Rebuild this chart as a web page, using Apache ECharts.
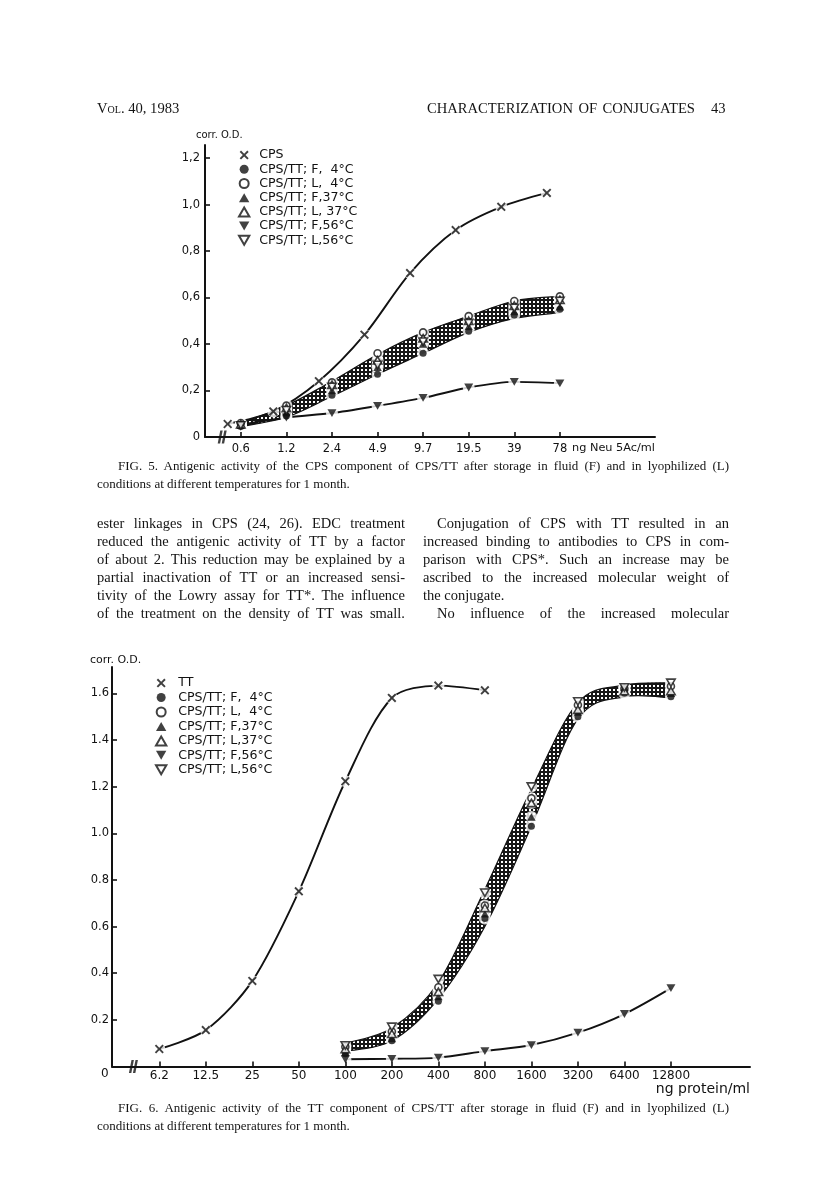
<!DOCTYPE html>
<html><head><meta charset="utf-8">
<script src="https://cdn.jsdelivr.net/npm/echarts@6/dist/echarts.min.js"></script>
<style>
html,body{margin:0;padding:0;background:#fff;}
#page{position:relative;width:816px;height:1199px;overflow:hidden;background:#fff;}
#chart{position:absolute;left:0;top:0;width:816px;height:1199px;}
#txt{position:absolute;left:0;top:0;width:816px;height:1199px;pointer-events:none;}
.t{position:absolute;font-family:"Liberation Serif","Times New Roman",serif;color:#141414;white-space:nowrap;}
</style></head>
<body><div id="page"><div id="chart"></div><div id="txt"></div></div>
<script>
// ---------- DATA: Fig. 5 ----------
const F5_TICK_LABELS = ['0.6','1.2','2.4','4.9','9.7','19.5','39','78'];
const F5_TICK_CONC = [0.61,1.22,2.44,4.88,9.75,19.5,39,78];
const F5_Y_TICKS = [0,0.2,0.4,0.6,0.8,1.0,1.2];
const F5_Y_LABELS = ['0','0,2','0,4','0,6','0,8','1,0','1,2'];
const CPS_CONC = [0.5,1,2,4,8,16,32,64];
const CPS_OD = [0.056,0.11,0.24,0.44,0.705,0.89,0.99,1.05];
const F5_F4 = [0.045,0.09,0.18,0.27,0.36,0.455,0.525,0.55];
const F5_L4 = [0.06,0.135,0.235,0.36,0.45,0.52,0.585,0.605];
const F5_F37 = [0.05,0.105,0.2,0.3,0.4,0.475,0.54,0.56];
const F5_L37 = [0.055,0.125,0.225,0.33,0.425,0.5,0.565,0.59];
const F5_F56 = [0.052,0.084,0.103,0.134,0.168,0.213,0.237,0.231];
const F5_L56 = [0.05,0.115,0.215,0.31,0.41,0.49,0.555,0.585];
const F5_BAND_HI = [0.06,0.135,0.24,0.355,0.45,0.52,0.585,0.605];
const F5_BAND_LO = [0.045,0.085,0.175,0.27,0.36,0.45,0.51,0.535];
const F5_NAMES = ['CPS','CPS/TT; F,  4°C','CPS/TT; L,  4°C','CPS/TT; F,37°C','CPS/TT; L, 37°C','CPS/TT; F,56°C','CPS/TT; L,56°C'];

// ---------- DATA: Fig. 6 ----------
const F6_TICK_LABELS = ['6.2','12.5','25','50','100','200','400','800','1600','3200','6400','12800'];
const F6_TICK_CONC = [6.25,12.5,25,50,100,200,400,800,1600,3200,6400,12800];
const F6_Y_TICKS = [0.2,0.4,0.6,0.8,1.0,1.2,1.4,1.6];
const F6_Y_LABELS = ['0.2','0.4','0.6','0.8','1.0','1.2','1.4','1.6'];
const TT_CONC = [6.25,12.5,25,50,100,200,400,800];
const TT_OD = [0.075,0.156,0.367,0.751,1.223,1.58,1.633,1.613];
const CONJ_CONC = [100,200,400,800,1600,3200,6400,12800];
const F6_F4 = [0.055,0.11,0.28,0.635,1.03,1.5,1.6,1.585];
const F6_L4 = [0.085,0.15,0.34,0.69,1.15,1.55,1.62,1.63];
const F6_F37 = [0.06,0.12,0.3,0.655,1.07,1.52,1.625,1.6];
const F6_L37 = [0.075,0.14,0.32,0.68,1.13,1.53,1.61,1.61];
const F6_F56 = [0.031,0.033,0.038,0.066,0.092,0.145,0.225,0.336];
const F6_L56 = [0.09,0.17,0.375,0.745,1.2,1.565,1.625,1.645];
const F6_BAND_HI = [0.1,0.165,0.36,0.76,1.19,1.56,1.635,1.645];
const F6_BAND_LO = [0.065,0.11,0.29,0.6,1.03,1.49,1.585,1.58];
const F6_NAMES = ['TT','CPS/TT; F,  4°C','CPS/TT; L,  4°C','CPS/TT; F,37°C','CPS/TT; L,37°C','CPS/TT; F,56°C','CPS/TT; L,56°C'];

// axis-break positions (in concentration units, drawn on the x axis)
const F5_BREAK_CONC = 0.46;
const F6_BREAK_CONC = 4.25;

// ---------- page text ----------
const TEXT_LINES = [
  {h:'V<span style="font-variant:small-caps">ol</span>. 40, 1983', x:97, y:108, fs:14.6},
  {t:'CHARACTERIZATION OF CONJUGATES', x:427, y:108, fs:14.6, w:268},
  {t:'43', x:711, y:108, fs:14.6},
  {t:'FIG. 5. Antigenic activity of the CPS component of CPS/TT after storage in fluid (F) and in lyophilized (L)', x:118, y:466, fs:13, w:611},
  {t:'conditions at different temperatures for 1 month.', x:97, y:484, fs:13},
  {t:'ester linkages in CPS (24, 26). EDC treatment', x:97, y:523, fs:14.5, w:308},
  {t:'reduced the antigenic activity of TT by a factor', x:97, y:541, fs:14.5, w:308},
  {t:'of about 2. This reduction may be explained by a', x:97, y:559, fs:14.5, w:308},
  {t:'partial inactivation of TT or an increased sensi-', x:97, y:577, fs:14.5, w:308},
  {t:'tivity of the Lowry assay for TT*. The influence', x:97, y:595, fs:14.5, w:308},
  {t:'of the treatment on the density of TT was small.', x:97, y:613, fs:14.5, w:308},
  {t:'Conjugation of CPS with TT resulted in an', x:437, y:523, fs:14.5, w:292},
  {t:'increased binding to antibodies to CPS in com-', x:423, y:541, fs:14.5, w:306},
  {t:'parison with CPS*. Such an increase may be', x:423, y:559, fs:14.5, w:306},
  {t:'ascribed to the increased molecular weight of', x:423, y:577, fs:14.5, w:306},
  {t:'the conjugate.', x:423, y:595, fs:14.5},
  {t:'No influence of the increased molecular', x:437, y:613, fs:14.5, w:292},
  {t:'FIG. 6. Antigenic activity of the TT component of CPS/TT after storage in fluid (F) and in lyophilized (L)', x:118, y:1108, fs:13, w:611},
  {t:'conditions at different temperatures for 1 month.', x:97, y:1126, fs:13}
];

const txt = document.getElementById('txt');
TEXT_LINES.forEach(L => {
  const d = document.createElement('div');
  d.className = 't';
  const lh = Math.round(L.fs * 1.2);
  d.style.left = L.x + 'px';
  d.style.top = (L.y - lh / 2) + 'px';
  d.style.fontSize = L.fs + 'px';
  d.style.lineHeight = lh + 'px';
  if (L.h) d.innerHTML = L.h; else d.textContent = L.t;
  txt.appendChild(d);
  if (L.w) {
    const nat = d.getBoundingClientRect().width;
    const spaces = (L.t.match(/ /g) || []).length;
    if (spaces > 0) d.style.wordSpacing = ((L.w - nat) / spaces) + 'px';
    else d.style.letterSpacing = ((L.w - nat) / Math.max(1, L.t.length - 1)) + 'px';
  }
});

// ---------- chart ----------
const B5 = 78 / 128, B6 = 6.25;
const lx = (c, b) => Math.log2(c / b);
const pts = (conc, vals, b) => conc.map((c, i) => [lx(c, b), vals[i]]);
const INK = '#121212';
const SYM_X = 'path://M0,1.5L1.5,0L5,3.5L8.5,0L10,1.5L6.5,5L10,8.5L8.5,10L5,6.5L1.5,10L0,8.5L3.5,5Z';
const SYM_DOWN = 'path://M0,0L10,0L5,8.7Z';
const SYM_UP = 'path://M5,0L10,8.7L0,8.7Z';
const SYM_BREAK = 'path://M3.2,0L6.2,0L3,14L0,14Z M8.2,0L11.2,0L8,14L5,14Z';

const pc = document.createElement('canvas'); pc.width = 4; pc.height = 4;
const pg = pc.getContext('2d');
pg.fillStyle = '#161616'; pg.fillRect(0, 0, 4, 4);
pg.fillStyle = '#ffffff'; pg.fillRect(1, 1, 2, 2);
const PATTERN = {image: pc, repeat: 'repeat'};

// Catmull-Rom spline through pixel points -> SVG path segments (after the first point)
function spline(P) {
  let s = '';
  for (let i = 0; i < P.length - 1; i++) {
    const p0 = P[Math.max(0, i - 1)], p1 = P[i], p2 = P[i + 1], p3 = P[Math.min(P.length - 1, i + 2)];
    const c1 = [p1[0] + (p2[0] - p0[0]) / 6, p1[1] + (p2[1] - p0[1]) / 6];
    const c2 = [p2[0] - (p3[0] - p1[0]) / 6, p2[1] - (p3[1] - p1[1]) / 6];
    s += 'C' + c1[0].toFixed(2) + ',' + c1[1].toFixed(2) + ' ' + c2[0].toFixed(2) + ',' + c2[1].toFixed(2) + ' ' + p2[0].toFixed(2) + ',' + p2[1].toFixed(2);
  }
  return s;
}
function band(conc, lo, hi, b, gi) {
  const up = pts(conc, hi, b), dn = pts(conc, lo, b);
  return {type: 'custom', xAxisIndex: gi, yAxisIndex: gi, data: [[up[0][0], up[0][1]]], z: 1, silent: true,
    renderItem: (params, api) => {
      const U = up.map(p => api.coord(p));
      const D = dn.map(p => api.coord(p)).reverse();
      const d = 'M' + U[0][0].toFixed(2) + ',' + U[0][1].toFixed(2) + spline(U) +
        'L' + D[0][0].toFixed(2) + ',' + D[0][1].toFixed(2) + spline(D) + 'Z';
      return {type: 'path', shape: {pathData: d}, style: {fill: PATTERN, stroke: INK, lineWidth: 1.2}};
    }};
}
function marker(name, data, symbol, size, filled, gi) {
  return {type: 'scatter', name, xAxisIndex: gi, yAxisIndex: gi, data, symbol, symbolSize: size,
    symbolKeepAspect: true, z: 4, silent: true,
    itemStyle: filled ? {color: INK} : {color: '#fff', borderColor: INK, borderWidth: 1.6}};
}
function curve(data, gi, smooth) {
  return {type: 'line', xAxisIndex: gi, yAxisIndex: gi, data, showSymbol: false, symbol: 'none',
    smooth, lineStyle: {color: INK, width: 1.9}, z: 2, silent: true};
}
function halo(list, gi, size) {
  return {type: 'scatter', xAxisIndex: gi, yAxisIndex: gi, data: [].concat(...list), symbol: 'circle',
    symbolSize: size, itemStyle: {color: '#fff'}, z: 3, silent: true};
}
function brk(x, gi) {
  return {type: 'scatter', xAxisIndex: gi, yAxisIndex: gi, data: [[x, 0]], symbol: SYM_BREAK,
    symbolSize: [9, 13], symbolKeepAspect: false, itemStyle: {color: INK}, z: 8, silent: true};
}
function xAxis(gi, min, max, ticks, labels, margin, fs) {
  return {type: 'value', gridIndex: gi, min, max, z: 5,
    axisLine: {show: true, onZero: false, lineStyle: {color: INK, width: 2}},
    axisTick: {show: true, inside: true, length: 5, customValues: ticks, lineStyle: {color: INK, width: 1.6}},
    axisLabel: {show: true, customValues: ticks, margin, fontFamily: 'DejaVu Sans', fontSize: fs, color: INK,
      formatter: v => labels[Math.round(v)]},
    splitLine: {show: false}};
}
function yAxis(gi, max, ticks, labels, tickVals, margin, fs) {
  return {type: 'value', gridIndex: gi, min: 0, max, z: 5,
    axisLine: {show: true, onZero: false, lineStyle: {color: INK, width: 2}},
    axisTick: {show: true, inside: true, length: 5, customValues: tickVals, lineStyle: {color: INK, width: 1.6}},
    axisLabel: {show: true, customValues: ticks, margin, fontFamily: 'DejaVu Sans', fontSize: fs, color: INK,
      formatter: v => { let k = 0; ticks.forEach((t, i) => { if (Math.abs(t - v) < Math.abs(ticks[k] - v)) k = i; }); return labels[k]; }},
    splitLine: {show: false}};
}

const f5x = F5_TICK_CONC;
const p5 = {
  cps: pts(CPS_CONC, CPS_OD, B5), f4: pts(f5x, F5_F4, B5), l4: pts(f5x, F5_L4, B5), f37: pts(f5x, F5_F37, B5),
  l37: pts(f5x, F5_L37, B5), f56: pts(f5x, F5_F56, B5), l56: pts(f5x, F5_L56, B5)
};
const p6 = {
  tt: pts(TT_CONC, TT_OD, B6), f4: pts(CONJ_CONC, F6_F4, B6), l4: pts(CONJ_CONC, F6_L4, B6), f37: pts(CONJ_CONC, F6_F37, B6),
  l37: pts(CONJ_CONC, F6_L37, B6), f56: pts(CONJ_CONC, F6_F56, B6), l56: pts(CONJ_CONC, F6_L56, B6)
};
const f5Ticks = F5_TICK_CONC.map(c => lx(c, B5));
const f6Ticks = F6_TICK_CONC.map(c => lx(c, B6));

const legendText = {fontFamily: 'DejaVu Sans', fontSize: 12.6, color: INK, lineHeight: 14.2};

const option = {
  animation: false,
  backgroundColor: 'transparent',
  grid: [
    {left: 205, top: 145, width: 450, height: 292, containLabel: false, outerBoundsMode: 'none'},
    {left: 112, top: 667, width: 638, height: 399.5, containLabel: false, outerBoundsMode: 'none'}
  ],
  xAxis: [
    xAxis(0, -0.783, 9.086, f5Ticks, F5_TICK_LABELS, 6, 11.5),
    xAxis(1, -1.017, 12.70, f6Ticks, F6_TICK_LABELS, 3, 12)
  ],
  yAxis: [
    yAxis(0, 1.256, F5_Y_TICKS, F5_Y_LABELS, F5_Y_TICKS.slice(1), 5, 11.5),
    yAxis(1, 1.7128, F6_Y_TICKS, F6_Y_LABELS, F6_Y_TICKS, 3, 11.5)
  ],
  legend: [
    {data: F5_NAMES, orient: 'vertical', left: 238, top: 148, itemWidth: 20, itemHeight: 9, itemGap: 0,
      selectedMode: false, textStyle: legendText, padding: 0},
    {data: F6_NAMES, orient: 'vertical', left: 155, top: 676, itemWidth: 24, itemHeight: 9, itemGap: 0.25,
      selectedMode: false, textStyle: legendText, padding: 0}
  ],
  graphic: [
    {type: 'text', left: 196, top: 130, silent: true, style: {text: 'corr. O.D.', font: '10px "DejaVu Sans"', fill: INK}},
    {type: 'text', right: 161, top: 443, silent: true, style: {text: 'ng Neu 5Ac/ml', font: '11.3px "DejaVu Sans"', fill: INK}},
    {type: 'text', left: 90, top: 655, silent: true, style: {text: 'corr. O.D.', font: '11px "DejaVu Sans"', fill: INK}},
    {type: 'text', left: 101, top: 1068, silent: true, style: {text: '0', font: '12px "DejaVu Sans"', fill: INK}},
    {type: 'text', right: 66, top: 1082, silent: true, style: {text: 'ng protein/ml', font: '14px "DejaVu Sans"', fill: INK}}
  ],
  series: [
    // Fig. 5
    band(F5_TICK_CONC, F5_BAND_LO, F5_BAND_HI, B5, 0),
    curve(p5.cps, 0, 0.3),
    curve(p5.f56, 0, 0.3),
    halo([p5.cps, p5.f4, p5.l4, p5.f37, p5.l37, p5.f56, p5.l56], 0, 12),
    marker(F5_NAMES[0], p5.cps, SYM_X, 9, true, 0),
    marker(F5_NAMES[1], p5.f4, 'circle', 7, true, 0),
    marker(F5_NAMES[2], p5.l4, 'circle', 7, false, 0),
    marker(F5_NAMES[3], p5.f37, SYM_UP, 8.5, true, 0),
    marker(F5_NAMES[4], p5.l37, SYM_UP, 8.5, false, 0),
    marker(F5_NAMES[5], p5.f56, SYM_DOWN, 9, true, 0),
    marker(F5_NAMES[6], p5.l56, SYM_DOWN, 8.5, false, 0),
    brk(lx(F5_BREAK_CONC, B5), 0),
    // Fig. 6
    band(CONJ_CONC, F6_BAND_LO, F6_BAND_HI, B6, 1),
    curve(p6.tt, 1, 0.3),
    curve(p6.f56, 1, 0.3),
    halo([p6.tt, p6.f4, p6.l4, p6.f37, p6.l37, p6.f56, p6.l56], 1, 12),
    marker(F6_NAMES[0], p6.tt, SYM_X, 9, true, 1),
    marker(F6_NAMES[1], p6.f4, 'circle', 7, true, 1),
    marker(F6_NAMES[2], p6.l4, 'circle', 7, false, 1),
    marker(F6_NAMES[3], p6.f37, SYM_UP, 8.5, true, 1),
    marker(F6_NAMES[4], p6.l37, SYM_UP, 8.5, false, 1),
    marker(F6_NAMES[5], p6.f56, SYM_DOWN, 9, true, 1),
    marker(F6_NAMES[6], p6.l56, SYM_DOWN, 8.5, false, 1),
    brk(lx(F6_BREAK_CONC, B6), 1)
  ]
};
const chart = echarts.init(document.getElementById('chart'), null, {renderer: 'canvas', width: 816, height: 1199});
chart.setOption(option);
</script>
</body></html>
